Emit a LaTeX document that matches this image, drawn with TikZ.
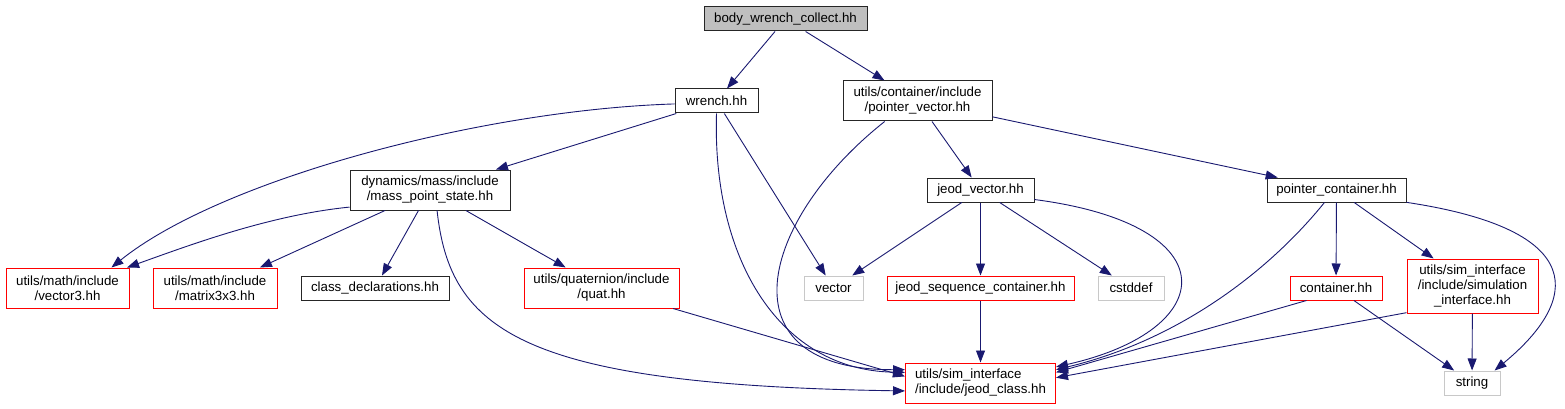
\documentclass[tikz,border=0pt]{standalone}
\usepackage{fontspec}
\setmainfont{Liberation Sans}
\usepackage{tikz}
\usetikzlibrary{arrows.meta}
\definecolor{depline}{HTML}{191970}
\definecolor{sysline}{HTML}{C8C8C8}
\definecolor{rootfill}{HTML}{BFBFBF}
\definecolor{docred}{HTML}{FF0000}

\begin{document}
\begin{tikzpicture}[
    x=1pt, y=-1pt,
    >={Triangle[length=12pt, width=9pt]},
    incl/.style={draw=black!85, line width=1pt, inner sep=0pt, align=center, minimum height=24pt, font=\fontsize{13.3}{15}\selectfont},
    inclred/.style={incl, draw=docred},
    sysincl/.style={incl, draw=sysline},
    rootincl/.style={incl, fill=rootfill},
    dep/.style={->, depline, line width=0.9pt}]

  \useasboundingbox (0,0) rectangle (1565,409);

  % Top of the graph.
  \node[rootincl, minimum width=163pt] (bwc) at (785.5,19) {body\_wrench\_collect.hh};
  \node[incl, minimum width=83pt] (wrench) at (716.5,101) {wrench.hh};
  \node[incl, minimum width=149pt, minimum height=40pt] (pvec) at (917.5,101) {utils/container/include\\/pointer\_vector.hh};

  % Second row.
  \node[incl, minimum width=160pt, minimum height=40pt] (mps) at (430,190) {dynamics/mass/include\\/mass\_point\_state.hh};
  \node[incl, minimum width=107pt] (jvec) at (980.5,190) {jeod\_vector.hh};
  \node[incl, minimum width=139pt] (pcont) at (1336.5,190) {pointer\_container.hh};

  % Third row.
  \node[inclred, minimum width=123pt, minimum height=40pt] (vec3) at (67.5,288) {utils/math/include\\/vector3.hh};
  \node[inclred, minimum width=124pt, minimum height=40pt] (mat3) at (215,288) {utils/math/include\\/matrix3x3.hh};
  \node[incl, minimum width=148pt] (cdecl) at (375,288) {class\_declarations.hh};
  \node[inclred, minimum width=155pt, minimum height=40pt] (quat) at (601.5,288) {utils/quaternion/include\\/quat.hh};
  \node[sysincl, minimum width=59pt] (vector) at (833.5,288) {vector};
  \node[inclred, minimum width=187pt] (jseq) at (980.5,288) {jeod\_sequence\_container.hh};
  \node[sysincl, minimum width=66pt] (cstd) at (1131,288) {cstddef};
  \node[inclred, minimum width=92pt] (cont) at (1336,288) {container.hh};
  \node[inclred, minimum width=131pt, minimum height=54pt] (simif) at (1472.5,286) {utils/sim\_interface\\/include/simulation\\\_interface.hh};

  % Bottom row.
  \node[inclred, minimum width=150pt, minimum height=40pt, align=left] (jcls) at (980.5,383) {utils/sim\_interface\\/include/jeod\_class.hh};
  \node[sysincl, minimum width=56pt] (string) at (1472,383) {string};

  % Straight includes.
  \foreach \a/\b in {bwc/wrench, bwc/pvec, wrench/mps, wrench/vector, pvec/jvec, pvec/pcont,
      mps/mat3, mps/cdecl, mps/quat, jvec/vector, jvec/jseq, jvec/cstd, jseq/jcls,
      pcont/cont, pcont/simif, simif/string, cont/string}
    \draw[dep] (\a) -- (\b);
  \draw[dep] (quat.-16) -- (jcls.175);
  \draw[dep] (cont.203) -- (jcls.8);
  \draw[dep] (simif.202) -- (jcls.4);

  % Curved includes.
  \draw[dep] (wrench.184) .. controls (480,110) and (220,180) .. (vec3.25);
  \draw[dep] (mps.192) .. controls (270,215) and (190,245) .. (vec3.19);
  \draw[dep] (wrench.south) .. controls (712,260) and (780,370) .. (jcls.172);
  \draw[dep] (pvec.212) .. controls (760,220) and (720,370) .. (jcls.170);
  \draw[dep] (mps.-71) .. controls (450,330) and (520,385) .. (jcls.186);
  \draw[dep] (jvec.-10) .. controls (1230,225) and (1220,330) .. (jcls.12);
  \draw[dep] (pcont.226) .. controls (1270,270) and (1180,340) .. (jcls.10);
  \draw[dep] (pcont.-10) .. controls (1590,230) and (1580,300) .. (string.29);
\end{tikzpicture}
\end{document}
